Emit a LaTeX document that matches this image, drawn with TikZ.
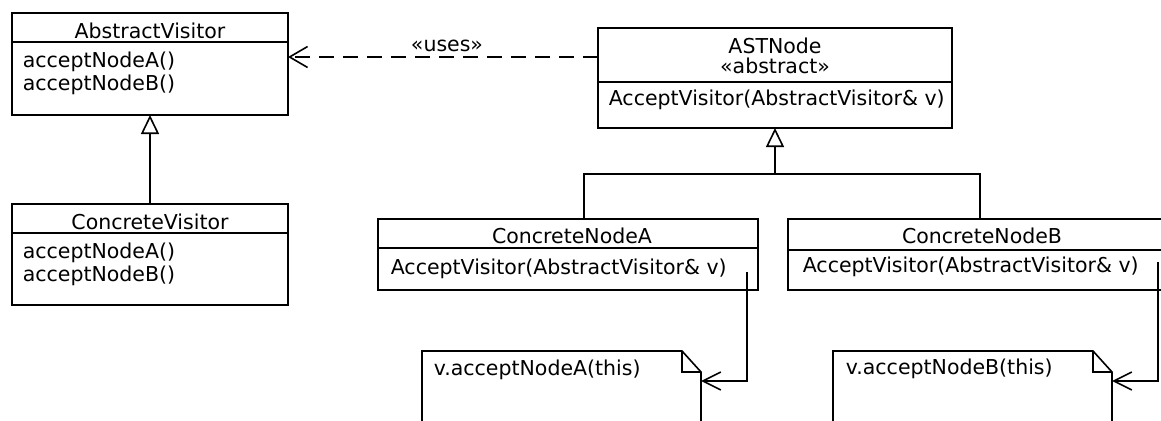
\documentclass[tikz,border=0pt]{standalone}
\usepackage{fontspec}
\setmainfont{DejaVu Sans}
\usetikzlibrary{arrows.meta}
\begin{document}
\begin{tikzpicture}[x=1pt,y=-1pt,line width=1.6pt,
  cls/.style={draw,rectangle,inner sep=0pt,outer sep=0pt},
  notebox/.style={rectangle,inner sep=0pt,outer sep=0pt},
  txt/.style={inner sep=0pt,anchor=base,font=\fontsize{20.5}{24}\selectfont},
  optxt/.style={txt,anchor=base west},
  inherit/.style={-{Triangle[open,length=19pt,width=18pt,fill=white]}},
  usesline/.style={dash pattern=on 15pt off 9pt,-{Straight Barb[length=18pt,width=21pt]}},
  callline/.style={-{Straight Barb[length=18pt,width=18pt]}}]
\useasboundingbox (0,0) rectangle (1161,420);
\clip (0,0) rectangle (1161,420);
\fill[white] (0,0) rectangle (1161,420);

% class boxes
\node[cls,minimum width=276pt,minimum height=102pt] (av) at (150,64) {};
\node[cls,minimum width=276pt,minimum height=101pt] (cv) at (150,254.5) {};
\node[cls,minimum width=354pt,minimum height=100pt] (ast) at (775,78) {};
\node[cls,minimum width=380pt,minimum height=71pt] (cnA) at (568,254.5) {};
\node[cls,minimum width=380pt,minimum height=71pt] (cnB) at (978,254.5) {};
\node[notebox,minimum width=279pt,minimum height=94pt] (nA) at (561.5,398) {};
\node[notebox,minimum width=279pt,minimum height=94pt] (nB) at (972.5,398) {};

% dividers
\draw (av.west |- 0,42) -- (av.east |- 0,42);
\draw (cv.west |- 0,233) -- (cv.east |- 0,233);
\draw (ast.west |- 0,82) -- (ast.east |- 0,82);
\draw (cnA.west |- 0,248) -- (cnA.east |- 0,248);
\draw (cnB.west |- 0,250) -- (cnB.east |- 0,250);

% texts
\node[txt] (tav) at (150,39) {AbstractVisitor};
\node[optxt] (av1) at (22,67) {acceptNodeA()};
\node[optxt] (av2) at (22,90) {acceptNodeB()};
\node[txt] (tcv) at (150,229) {ConcreteVisitor};
\node[optxt] (cv1) at (22,258) {acceptNodeA()};
\node[optxt] (cv2) at (22,281) {acceptNodeB()};
\node[txt] (tast) at (775,53) {ASTNode};
\node[txt] (sast) at (775,74) {«abstract»};
\node[optxt] (oast) at (608,105) {AcceptVisitor(AbstractVisitor\& v)};
\node[txt] (tcnA) at (572,243) {ConcreteNodeA};
\node[optxt] (ocnA) at (390,274) {AcceptVisitor(AbstractVisitor\& v)};
\node[txt] (tcnB) at (982,243) {ConcreteNodeB};
\node[optxt] (ocnB) at (802,272) {AcceptVisitor(AbstractVisitor\& v)};
\node[txt] (luses) at (447,52) {«uses»};
\node[optxt] (tnA) at (433,375) {v.acceptNodeA(this)};
\node[optxt] (tnB) at (845,374) {v.acceptNodeB(this)};

% notes with folded corner
\foreach \n in {nA,nB}{
  \draw (\n.south west) -- (\n.north west) -- ([xshift=-19pt]\n.north east)
        -- ([yshift=-21pt]\n.north east) -- (\n.south east);
  \draw ([xshift=-19pt]\n.north east) |- ([yshift=-21pt]\n.north east);
}

% connectors
\draw[inherit] (cv.north) -- (av.south);
\draw[usesline] ([yshift=-29pt]ast.north west) -- ([yshift=-44pt]av.north east);
\coordinate (jn) at (775,174);
\draw[inherit] (jn) -- (ast.south);
\draw ([xshift=16pt]cnA.north) |- (jn) -| ([xshift=2pt]cnB.north);
\draw[callline] ([shift={(-11pt,18pt)}]cnA.south east) |- ([yshift=-30pt]nA.north east);
\draw[callline] ([shift={(-10pt,28pt)}]cnB.south east) |- ([yshift=-30pt]nB.north east);
\end{tikzpicture}
\end{document}
